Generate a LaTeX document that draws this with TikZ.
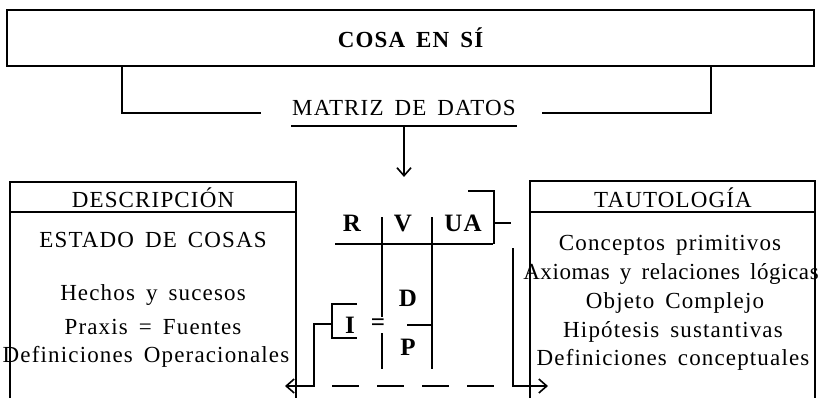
\documentclass[tikz,border=0pt]{standalone}
\usepackage{fontspec}
\setmainfont{Liberation Serif}[LetterSpace=5,WordSpace=1.6]
\usetikzlibrary{arrows.meta,positioning}

\begin{document}
\begin{tikzpicture}[
    x=0.5pt, y=-0.5pt,
    line width=0.8pt,
    txt/.style={inner sep=0pt, font=\fontsize{11.5}{14}\selectfont},
    cell/.style={inner sep=0pt, font=\fontsize{12.5}{15}\selectfont\bfseries},
    arrowline/.style={-{Straight Barb[length=4pt,width=7pt]}}
]
    \useasboundingbox (0,0) rectangle (819,398);

    % top block and data matrix
    \node[draw, minimum width=403.5pt, minimum height=28pt, font=\fontsize{11.5}{14}\selectfont\bfseries] (cosa) at (410.5,38) {COSA EN SÍ};
    \node[txt, inner ysep=4.7pt] (matriz) at (404,108) {MATRIZ DE DATOS};
    \draw ([xshift=58pt]cosa.south west) |- ([xshift=-15pt,yshift=-2.5pt]matriz.west);
    \draw ([xshift=-52pt]cosa.south east) |- ([xshift=12.5pt,yshift=-2.5pt]matriz.east);
    \draw (matriz.south west) -- (matriz.south east);
    \draw[arrowline] (matriz.south) -- ++(0,51);

    % left block
    \draw (10,398) |- (296,182) -- (296,398);
    \draw (10,212) -- (296,212);
    \node[txt] (descr) at (153,198) {DESCRIPCIÓN};
    \node[txt] (estado) at (153,240) {ESTADO DE COSAS};
    \node[txt] (hechos) at (153,295) {Hechos y sucesos};
    \node[txt] (praxis) at (153,327) {Praxis = Fuentes};
    \node[txt] (defop) at (146,357) {Definiciones Operacionales};

    % right block
    \draw (530,398) |- (815,181) -- (815,398);
    \draw (530,212) -- (815,212);
    \node[txt] (tauto) at (673,198) {TAUTOLOGÍA};
    \node[txt] (concep) at (670,245) {Conceptos primitivos};
    \node[txt, font=\fontsize{11.5}{14}\selectfont\addfontfeatures{LetterSpace=2.5}] (axiom) at (671,274) {Axiomas y relaciones lógicas};
    \node[txt] (objeto) at (675,303) {Objeto Complejo};
    \node[txt] (hipot) at (673,332) {Hipótesis sustantivas};
    \node[txt] (defcon) at (673,360) {Definiciones conceptuales};

    % middle grid
    \node[cell] (r) at (352,223) {R};
    \node[cell] (v) at (403,223) {V};
    \node[cell] (ua) at (463,223) {UA};
    \node[cell] (d) at (408,298) {D};
    \node[cell] (p) at (408,347) {P};
    \node[cell] (i) at (350,325) {I};
    \draw (382,217) -- (382,369);
    \draw (432,217) -- (432,369);
    \draw (335,244) -- (493,244);
    \draw (407,325) -- (432,325);
    \node[cell, fill=white, inner sep=1pt] (eq) at (378,325) {=};
    \draw (468,191) -| (494,244);
    \draw (494,223) -- (511,223);
    \draw (357,304) -| (332,338) -- (357,338);
    \coordinate (ibr) at (332,324);
    \coordinate (descin) at (285,386);
    \coordinate (tautin) at (548,386);
    \coordinate (rgt) at (513,248);
    \draw[arrowline] (ibr) -- ++(-18,0) |- (descin);
    \draw[dash pattern=on 13.5pt off 9pt] (332,386) -- (495,386);
    \draw[arrowline] (rgt) |- (tautin);
\end{tikzpicture}
\end{document}
